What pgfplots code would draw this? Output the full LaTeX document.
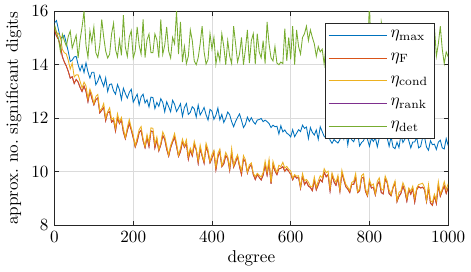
\documentclass[border=0pt]{standalone}
\usepackage{pgfplots}
\usepackage{pgfplotstable}
\pgfplotsset{compat=1.18}

\definecolor{mblue}{rgb}{0,0.447,0.741}
\definecolor{mred}{rgb}{0.85,0.325,0.098}
\definecolor{myellow}{rgb}{0.929,0.694,0.125}
\definecolor{mpurple}{rgb}{0.494,0.184,0.556}
\definecolor{mgreen}{rgb}{0.466,0.674,0.188}
\definecolor{axgray}{rgb}{0.15,0.15,0.15}

% columns: degree, eta_max, eta_F (eta_rank coincides with it), eta_cond, eta_det
\pgfplotstableread{
x    emax   eF     econd  edet
0    15.56  15.30  15.39  15.50
5    15.65  15.08  15.20  15.22
10   15.32  14.95  15.16  14.98
15   14.98  14.70  15.05  14.50
20   15.03  14.30  14.57  15.14
25   15.10  14.10  14.45  14.90
30   14.81  13.95  14.40  14.70
35   14.49  13.75  14.16  15.06
40   14.12  13.50  13.84  15.26
45   14.17  13.55  14.06  14.62
50   14.29  13.30  13.54  14.86
55   14.31  13.45  13.62  15.10
60   14.00  13.35  13.62  14.25
65   13.77  13.15  13.38  14.93
70   13.99  13.00  13.13  15.41
75   13.71  13.20  13.35  16.00
80   14.07  13.00  13.21  14.73
85   13.73  12.62  12.73  14.27
90   13.50  13.01  13.09  15.27
95   13.72  12.74  12.89  14.83
100  13.72  12.50  12.55  15.41
105  13.25  12.69  12.81  14.45
110  13.39  12.76  12.89  14.27
115  13.60  12.20  12.28  14.73
120  13.38  12.30  12.36  15.69
125  13.19  12.40  12.55  15.03
130  13.51  11.91  12.02  14.51
135  13.00  12.20  12.24  14.25
140  13.26  12.25  12.39  14.39
145  13.28  11.85  11.95  15.15
150  13.02  11.94  12.01  15.55
155  12.90  11.52  11.64  14.57
160  13.26  12.02  12.17  14.29
165  13.07  11.80  11.86  14.93
170  12.70  11.94  12.03  14.35
175  13.12  11.48  11.61  15.85
180  12.92  11.23  11.28  14.65
185  12.75  11.54  11.66  14.31
190  12.97  11.81  11.95  15.03
195  13.08  11.56  11.64  15.27
200  12.60  11.27  11.38  14.25
205  12.75  10.92  10.97  14.51
210  12.90  11.13  11.27  15.41
215  12.49  11.46  11.57  14.73
220  12.80  11.55  11.69  14.39
225  12.90  11.16  11.24  15.69
230  12.57  10.90  10.95  14.27
235  12.69  11.28  11.39  14.93
240  12.42  10.94  11.09  15.15
245  12.79  11.52  11.64  14.45
250  12.77  11.50  11.62  14.45
255  12.36  10.89  11.04  15.15
260  12.59  11.19  11.30  14.93
265  12.44  10.78  10.83  14.27
270  12.73  11.00  11.08  15.69
275  12.59  11.35  11.49  14.39
280  12.24  11.21  11.32  14.73
285  12.61  10.84  10.97  15.41
290  12.43  10.58  10.63  14.51
295  12.24  10.89  10.99  14.25
300  12.67  11.11  11.19  15.02
305  12.52  11.29  11.43  14.78
310  12.25  10.95  11.07  16.00
315  12.38  10.57  10.62  14.40
320  12.54  10.75  10.88  15.60
325  12.07  11.13  11.22  14.10
330  12.40  10.91  10.97  14.68
335  12.55  11.05  11.20  14.04
340  12.14  10.47  10.59  14.32
345  12.22  10.81  10.88  15.30
350  12.43  10.59  10.69  14.90
355  12.35  11.01  11.14  14.14
360  12.04  10.82  10.86  14.00
365  12.49  10.32  10.43  14.26
370  12.12  10.85  11.00  14.78
375  12.25  10.59  10.65  15.44
380  12.40  10.32  10.40  14.48
385  12.13  10.94  11.07  14.02
390  11.93  10.71  10.83  14.20
395  12.33  10.33  10.38  15.16
400  12.26  10.50  10.65  14.58
405  11.96  10.73  10.80  15.02
410  12.11  10.07  10.18  14.02
415  12.38  10.54  10.68  14.48
420  11.94  10.76  10.85  14.14
425  12.14  10.19  10.23  15.16
430  11.84  10.29  10.43  14.68
435  12.00  10.60  10.72  14.00
440  12.23  10.50  10.56  14.90
445  12.13  10.05  10.15  14.32
450  11.87  10.71  10.87  14.04
455  11.68  10.17  10.24  15.44
460  11.88  10.35  10.47  14.78
465  12.03  10.57  10.63  14.10
470  12.16  10.19  10.28  14.40
475  11.92   9.89  10.04  15.02
480  11.65  10.47  10.60  14.00
485  11.77  10.37  10.45  14.58
490  12.04   9.95   9.99  15.30
495  11.88  10.17  10.26  14.06
500  12.02  10.27  10.33  14.90
505  11.87   9.89   9.94  15.16
510  11.78   9.71   9.82  14.02
515  11.93   9.89   9.94  15.16
520  11.95   9.79   9.87  14.48
525  11.99   9.69   9.80  14.26
530  11.87   9.87   9.97  14.90
535  11.93  10.25  10.40  14.04
540  11.87   9.87  10.00  15.60
545  11.80  10.33  10.47  14.78
550  11.65   9.55   9.60  14.26
555  11.74  10.25  10.39  14.14
560  11.68  10.03  10.14  14.68
565  11.70   9.89   9.98  14.06
570  11.41  10.11  10.24  14.00
575  11.72  10.13  10.19  14.10
580  11.49  10.19  10.35  14.04
585  11.56  10.01  10.13  15.35
590  11.44  10.11  10.20  14.14
595  11.39  10.01  10.09  15.02
600  11.30   9.91  10.03  14.20
605  11.57   9.70   9.76  15.44
610  11.31   9.85   9.89  14.00
615  11.44   9.76   9.83  15.30
620  11.57   9.79   9.85  14.68
625  11.50   9.38   9.43  14.40
630  11.74   9.85   9.93  15.02
635  11.62   9.52   9.66  15.16
640  11.67   9.63   9.71  15.44
645  11.24   9.46   9.61  14.90
650  11.65   9.41   9.45  15.30
655  11.47   9.29   9.43  15.02
660  11.37   9.68   9.80  14.78
665  11.56   9.32   9.42  14.32
670  11.21   9.51   9.65  14.68
675  11.68   9.71   9.85  14.48
680  11.50   9.62   9.77  14.58
685  11.32   9.98  10.11  14.02
690  11.26   9.81   9.96  14.78
695  11.44   9.89  10.02  14.14
700  11.18   9.28   9.40  14.32
705  11.06   9.87   9.96  14.10
710  11.20   9.62   9.74  15.25
715  11.13   9.49   9.60  14.00
720  11.07   9.76   9.87  14.48
725  11.20   9.27   9.32  14.02
730  11.48   9.94  10.06  14.20
735  11.22   9.69   9.77  14.58
740  11.54   9.44   9.53  14.40
745  11.00   9.35   9.42  15.44
750  11.47   9.22   9.30  14.48
755  11.19   9.53   9.60  15.30
760  11.12   9.52   9.64  14.06
765  11.33   9.79   9.93  14.14
770  11.45   9.22   9.26  15.30
775  10.96   9.29   9.36  15.44
780  11.09   9.76   9.85  14.14
785  11.16   9.79   9.92  14.02
790  11.36   9.26   9.36  14.90
795  11.21   9.09   9.14  14.40
800  10.95   9.60   9.71  16.30
805  11.25   9.39   9.48  14.06
810  11.13   9.42   9.54  14.78
815  11.27   9.13   9.18  15.16
820  10.93   9.52   9.64  14.20
825  11.26   9.63   9.77  14.14
830  11.34   9.22   9.35  15.60
835  11.31   9.17   9.31  15.16
840  11.33   9.72   9.84  14.20
845  11.27   9.59   9.65  14.10
850  10.95   9.18   9.32  14.68
855  11.31   9.10   9.15  15.16
860  10.92   9.41   9.45  14.00
865  10.86   9.57   9.66  14.10
870  11.10   8.88   8.93  14.26
875  10.90   9.08   9.23  14.90
880  11.37   9.19   9.28  14.40
885  11.09   9.47   9.59  14.00
890  11.22   9.26   9.41  14.58
895  11.36   8.90   9.01  14.26
900  11.16   9.33   9.39  14.68
905  10.89   9.16   9.27  14.00
910  11.11   9.35   9.46  14.68
915  11.11   8.86   9.01  15.02
920  11.29   9.33   9.39  14.90
925  10.89   9.44   9.52  15.02
930  10.94   9.39   9.54  14.78
935  11.27   9.42   9.57  14.04
940  11.29   9.33   9.41  15.02
945  10.92   8.88   8.93  14.02
950  10.80   9.39   9.52  14.00
955  11.16   8.83   8.93  15.35
960  11.01   8.74   8.85  14.02
965  11.03   9.10   9.16  15.44
970  10.83   8.81   8.93  14.32
975  11.10   9.49   9.63  14.78
980  11.18   9.08   9.16  15.44
985  10.89   9.28   9.35  14.58
990  10.85   9.47   9.63  14.04
995  11.24   9.19   9.33  14.48
1000 10.98   9.40   9.55  14.30
}\digits

\begin{document}
\begin{tikzpicture}
\begin{axis}[
  set layers,
  scale only axis,
  width=230pt, height=125pt,
  xmin=0, xmax=1000, ymin=8, ymax=16,
  xtick={0,200,...,1000}, ytick={8,10,...,16},
  /pgf/number format/1000 sep={},
  xlabel={degree},
  ylabel={approx.\ no.\ significant digits},
  axis line style={axgray, line width=0.5pt},
  tick style={axgray, line width=0.4pt},
  major tick length=2.5pt,
  tick align=inside,
  xtick pos=both, ytick pos=both,
  grid=major,
  major grid style={line width=0.35pt, black!14},
  xlabel style={yshift=2pt},
  ylabel style={yshift=-1pt},
  every axis plot/.append style={line width=0.5pt},
  legend cell align=left,
  legend style={at={(0.965,0.945)}, anchor=north east, draw=axgray,
    line width=0.45pt, fill=white, row sep=5.5pt,
    inner xsep=1.5pt, inner ysep=3pt,
    nodes={inner xsep=2pt, inner ysep=1pt}},
  legend image code/.code={%
    \draw[mark repeat=2,mark phase=2] plot coordinates {(0pt,0pt) (17pt,0pt) (34pt,0pt)};},
]
\addplot[mblue] table[x=x, y=emax] {\digits};
\addlegendentry{$\eta_{\max}$}
\addplot[mred] table[x=x, y=eF] {\digits};
\addlegendentry{$\eta_{\mathrm{F}}$}
\addplot[myellow] table[x=x, y=econd] {\digits};
\addlegendentry{$\eta_{\mathrm{cond}}$}
% rank curve lies beneath the F curve
\addplot[mpurple, on layer=axis background] table[x=x, y=eF] {\digits};
\addlegendentry{$\eta_{\mathrm{rank}}$}
\addplot[mgreen] table[x=x, y=edet] {\digits};
\addlegendentry{$\eta_{\mathrm{det}}$}
\end{axis}
\end{tikzpicture}
\end{document}
